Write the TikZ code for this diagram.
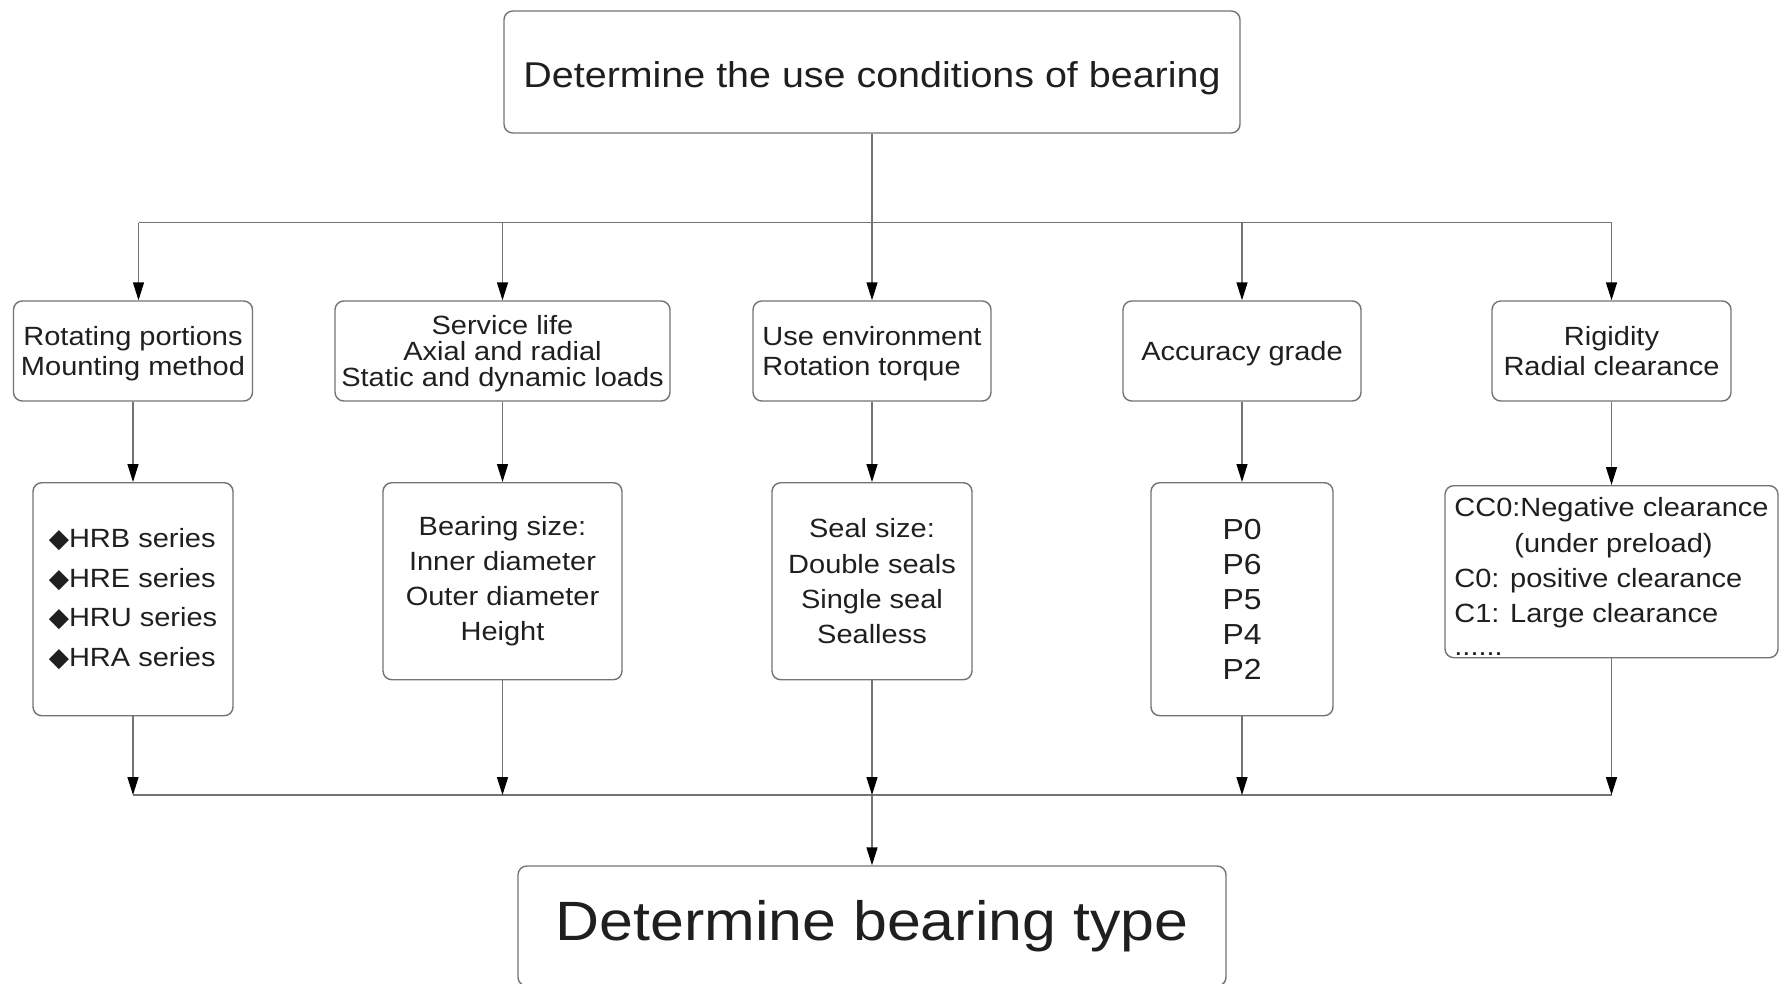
\documentclass[tikz,border=0pt]{standalone}
\usepackage{fontspec}
\setmainfont{Liberation Sans}[FakeStretch=1.1]
\newfontfamily\symbfont{DejaVu Sans}
\usetikzlibrary{arrows.meta}

\definecolor{boxgray}{gray}{0.45}
\definecolor{txtgray}{gray}{0.12}

\tikzset{
  box/.style={rectangle,draw=boxgray,line width=0.8pt,rounded corners=5pt,text=txtgray,inner sep=0pt,align=center},
  row1/.style={box,minimum height=2cm,text depth=0pt,font=\fontsize{15}{17.4}\selectfont},
  row2/.style={box,anchor=north,font=\fontsize{15}{20}\selectfont},
  link/.style={draw=boxgray,line width=0.8pt},
  flow/.style={link,-{Triangle[black,width=2.2mm,length=3.6mm]}}
}

\begin{document}
\begin{tikzpicture}
\useasboundingbox (0,0) rectangle (35.6,-19.66);

% Use conditions
\node[box,minimum width=14.72cm,minimum height=2.44cm,text height=18pt,text depth=0pt,font=\fontsize{20.4}{24}\selectfont] at(17.44,-1.44) (cond) {Determine the use conditions of bearing};

%level 1
\node[row1,minimum width=4.78cm] at(2.66,-7.02) (rot) {Rotating portions\\Mounting method};
\node[row1,minimum width=6.7cm,font=\fontsize{15}{14.8}\selectfont] at(10.05,-7.02) (life) {Service life\\Axial and radial\\Static and dynamic loads};
\node[row1,minimum width=4.76cm,align=left] at(17.44,-7.02) (env) {Use environment\\Rotation torque};
\node[row1,minimum width=4.76cm] at(24.84,-7.02) (acc) {Accuracy grade};
\node[row1,minimum width=4.78cm] at(32.23,-7.02) (rig) {Rigidity\\Radial clearance};

%level 2
\node[row2,minimum width=4cm,minimum height=4.66cm,align=left,font=\fontsize{15}{22.6}\selectfont] at(2.66,-9.64) (series) {{\symbfont ◆}HRB series\\{\symbfont ◆}HRE series\\{\symbfont ◆}HRU series\\{\symbfont ◆}HRA series};
\node[row2,minimum width=4.78cm,minimum height=3.94cm] at(10.05,-9.64) (size) {Bearing size:\\Inner diameter\\Outer diameter\\Height};
\node[row2,minimum width=4cm,minimum height=3.94cm] at(17.44,-9.64) (seal) {Seal size:\\Double seals\\Single seal\\Sealless};
\node[row2,minimum width=3.64cm,minimum height=4.66cm,font=\fontsize{16.5}{20}\selectfont] at(24.84,-9.64) (grade) {P0\\P6\\P5\\P4\\P2};
\node[row2,minimum width=6.66cm,minimum height=3.44cm,align=left] at(32.23,-9.7) (clear) {\rule{0pt}{16.4pt}CC0:Negative clearance\\\hspace*{1.2cm}(under preload)\\C0: positive clearance\\C1: Large clearance\\[-1.3pt]......};

% Bearing type
\node[box,minimum width=14.16cm,minimum height=2.4cm,font=\fontsize{31.5}{36}\selectfont] at(17.44,-18.52) (type) {Determine bearing type};

%Upper bus
\coordinate (u1) at(2.77,-4.45);
\coordinate (u2) at(10.05,-4.45);
\coordinate (u4) at(24.84,-4.45);
\coordinate (u5) at(32.23,-4.45);

\draw[link] (u1) -- (u5);
\draw[flow] (cond) -- (env);
\draw[flow] (u1) -- (u1 |- rot.north);
\draw[flow] (u2) -- (life);
\draw[flow] (u4) -- (acc);
\draw[flow] (u5) -- (rig);

%Level 1 to level 2
\draw[flow] (rot) -- (series);
\draw[flow] (life) -- (size);
\draw[flow] (env) -- (seal);
\draw[flow] (acc) -- (grade);
\draw[flow] (rig) -- (clear);

%Lower bus
\coordinate (d1) at(2.66,-15.9);
\coordinate (d2) at(10.05,-15.9);
\coordinate (d3) at(17.44,-15.9);
\coordinate (d4) at(24.84,-15.9);
\coordinate (d5) at(32.23,-15.9);

\draw[link] (d1) -- (d5);
\draw[flow] (series) -- (d1);
\draw[flow] (size) -- (d2);
\draw[flow] (seal) -- (d3);
\draw[flow] (grade) -- (d4);
\draw[flow] (clear) -- (d5);
\draw[flow] (d3) -- (type);

\end{tikzpicture}
\end{document}
